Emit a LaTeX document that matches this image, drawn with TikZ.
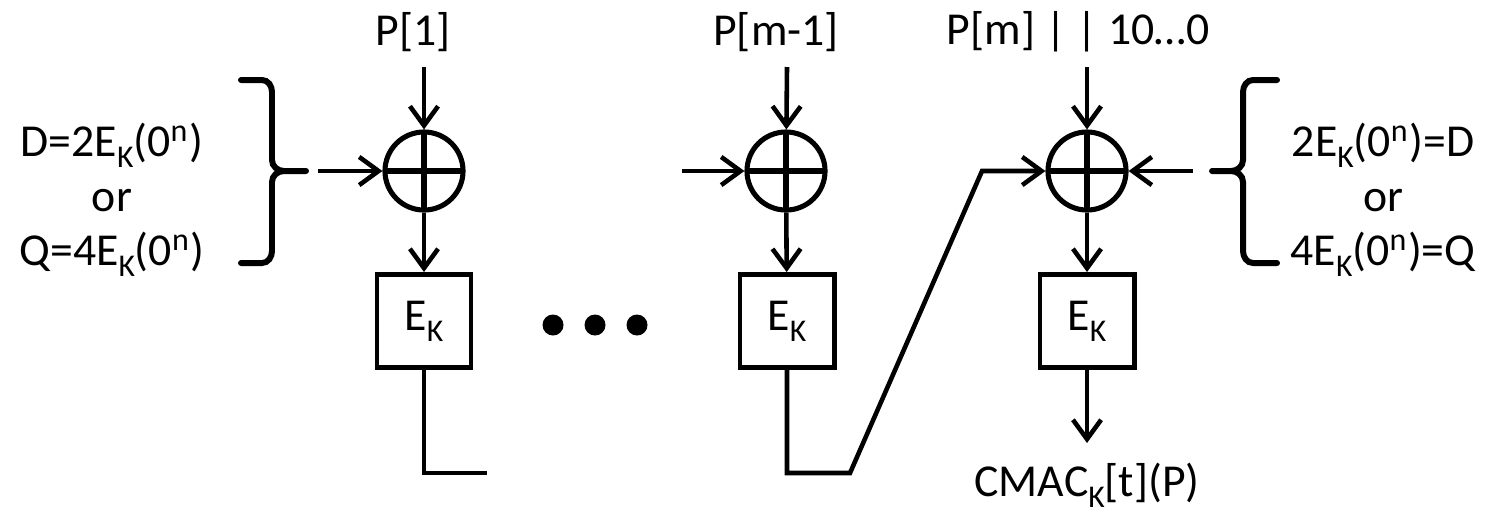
\documentclass[tikz,border=0pt]{standalone}
\usepackage{fontspec}
\setmainfont{Carlito}
\usetikzlibrary{arrows.meta, positioning}
\lineskiplimit=-6pt
\newcommand{\ksub}[1]{\raisebox{-3.2pt}{\fontsize{9}{9}\selectfont #1}}

\begin{document}
\begin{tikzpicture}[
    x=0.01cm, y=-0.01cm,
    every node/.style={font=\fontsize{13}{14.2}\selectfont},
    xorop/.style={circle, draw, line width=1.45pt, minimum size=0.78cm, inner sep=0pt,
        path picture={\draw[line width=1.45pt] (path picture bounding box.north) -- (path picture bounding box.south)
            (path picture bounding box.west) -- (path picture bounding box.east);}},
    cipher/.style={rectangle, draw, line width=1.4pt, minimum width=0.94cm, minimum height=0.93cm, inner sep=0pt},
    arrow/.style={-{Straight Barb[length=5.5pt, width=8pt, line width=1.3pt]}, line width=1.3pt},
    wire/.style={line width=1.3pt},
    brace/.style={line width=1.7pt, line cap=round},
]
\useasboundingbox (0,0) rectangle (1492,511);

% XOR and cipher blocks
\node[xorop] (xor1) at (424,171) {};
\node[xorop] (xor2) at (786,171) {};
\node[xorop] (xor3) at (1087,171) {};
\node[cipher] (enc1) at (424,321) {E\ksub{K}};
\node[cipher] (enc2) at (787,321) {E\ksub{K}};
\node[cipher] (enc3) at (1087,321) {E\ksub{K}};

% Labels
\node (p1) at (413,32) {P[1]};
\node (pm1) at (776,32) {P[m-1]};
\node (pm) at (1078,32) {P[m] | | 10…0};
\node[align=center] (keyl) at (112,200) {D=2E\ksub{K}(0\textsuperscript{n})\\[1.3pt]or\\[1.3pt]Q=4E\ksub{K}(0\textsuperscript{n})};
\node[align=center] (keyr) at (1383,200) {2E\ksub{K}(0\textsuperscript{n})=D\\[1.3pt]or\\[1.3pt]4E\ksub{K}(0\textsuperscript{n})=Q};
\node (cmac) at (1087,485) {CMAC\ksub{K}[t](P)};

% Dots
\foreach \dx in {553,595,637}
    \fill (\dx,325) circle[radius=0.105cm];

% Braces
\draw[brace] (241,80) -- (262,80) to[out=0,in=90] (272,92) -- (272,160) to[out=-90,in=180] (284,171) -- (306,171)
    (284,171) to[out=180,in=90] (272,182) -- (272,251) to[out=-90,in=0] (262,263) -- (241,263);
\draw[brace] (1277,80) -- (1253,80) to[out=180,in=90] (1243,92) -- (1243,160) to[out=-90,in=0] (1231,171) -- (1212,171)
    (1231,171) to[out=0,in=90] (1243,182) -- (1243,251) to[out=-90,in=180] (1253,263) -- (1277,263);

% Wire ends
\coordinate (in1) at (424,67);
\coordinate (in2) at (787,67);
\coordinate (in3) at (1087,67);
\coordinate (keyin1) at (318,171);
\coordinate (keyin2) at (682,171);
\coordinate (keyin3) at (1193,171);
\coordinate (out1) at (487,473);
\coordinate (bend) at (850,473);
\coordinate (rise) at (982,171);
\coordinate (tag) at (1087,443);

% Arrows
\draw[arrow] (in1) -- (xor1);
\draw[arrow] (in2) -- (xor2);
\draw[arrow] (in3) -- (xor3);
\draw[arrow] (keyin1) -- (xor1);
\draw[arrow] (keyin2) -- (xor2);
\draw[arrow] (keyin3) -- (xor3);
\draw[arrow] (xor1) -- (enc1);
\draw[arrow] (xor2) -- (enc2);
\draw[arrow] (xor3) -- (enc3);
\draw[wire] (enc1.south) |- (out1);
\draw[arrow] (enc2.south) |- (bend) -- (rise) -- (xor3);
\draw[arrow] (enc3) -- (tag);

\end{tikzpicture}
\end{document}
